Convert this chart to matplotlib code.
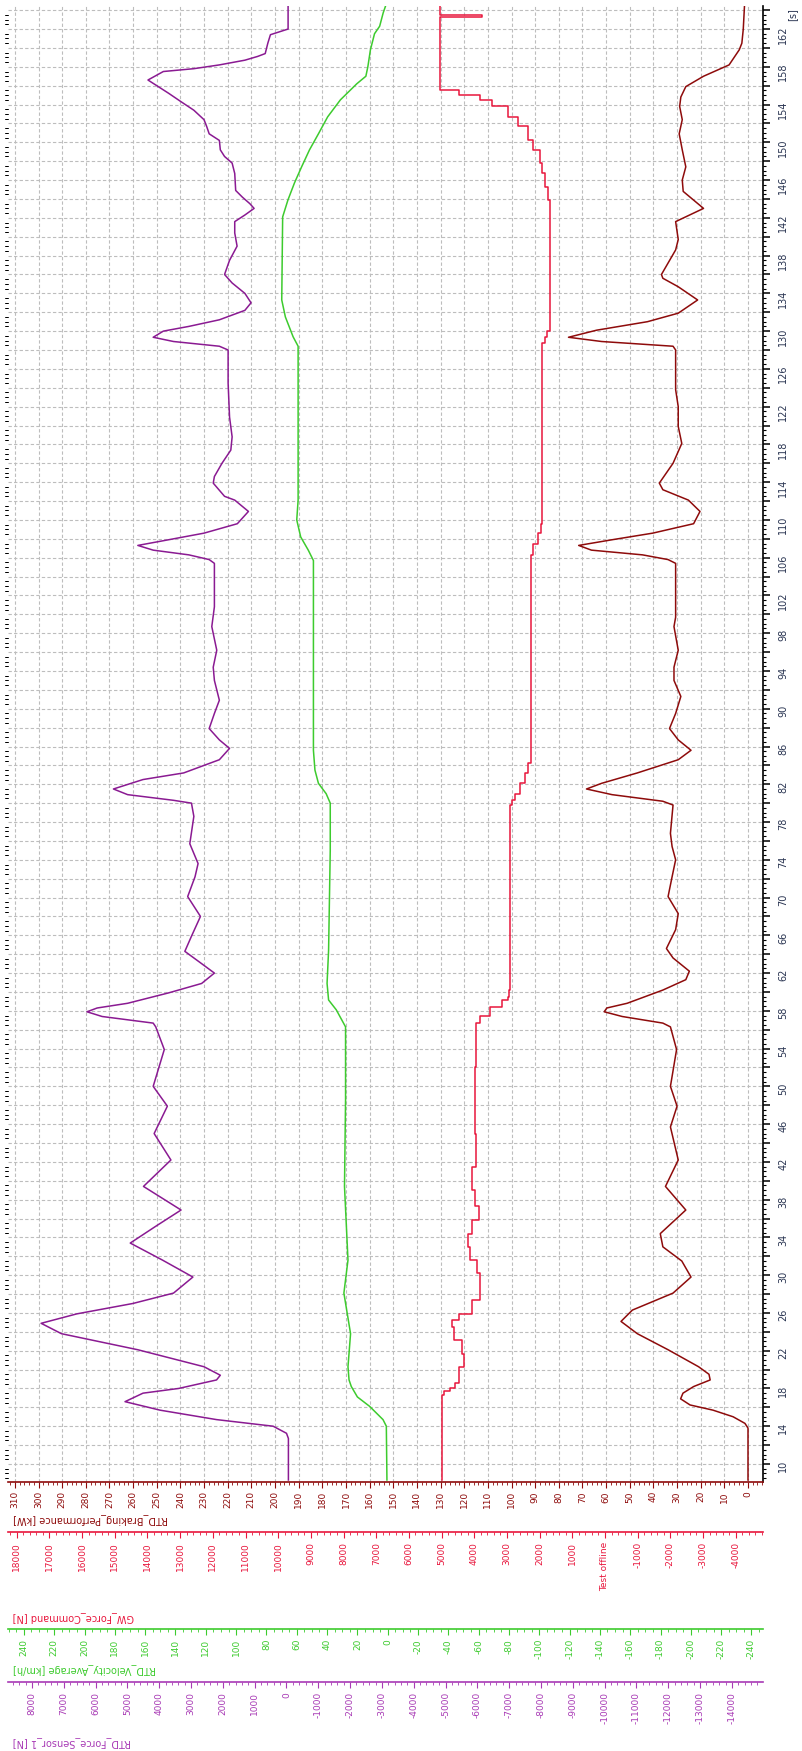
import matplotlib
matplotlib.use('Agg')
import matplotlib.pyplot as plt
from matplotlib.ticker import MultipleLocator, FuncFormatter

W, H = 802, 1751

# ---- data (time in s) ----
# RTD_Braking_Performance [kW]
kw_t = [8.3, 13.8, 14.3, 15.0, 15.7, 16.25, 16.9, 17.5, 18.2, 18.9, 19.5, 20.3, 22.1, 23.8,
        25.1, 26.3, 28.1, 29.8, 31.5, 33.0, 34.4, 36.9, 39.4, 42.2, 45.7, 47.9, 50.0, 53.9,
        56.3, 56.7, 57.4, 57.9, 58.3, 58.8, 60.2, 61.3, 62.2, 63.6, 64.6, 66.6, 68.3, 70.1,
        72.2, 74.0, 75.4, 76.8, 79.8, 80.2, 80.9, 81.5, 82.1, 83.2, 84.6, 85.6, 86.7, 87.9,
        89.5, 91.3, 93.0, 94.4, 96.2, 98.7, 99.7, 105.4, 105.8, 106.3, 106.8, 107.3, 107.9,
        108.6, 109.6, 110.9, 112.1, 113.2, 113.9, 116.0, 118.1, 119.9, 122.0, 123.8, 128.0,
        128.4, 128.9, 129.35, 130.1, 131.0, 131.9, 133.3, 134.7, 135.6, 136.0, 138.6, 139.7,
        141.6, 143.0, 144.8, 146.0, 147.4, 149.2, 150.9, 152.4, 153.8, 154.8, 155.9, 157.0,
        158.2, 159.8, 160.5, 162.0, 164.4]
kw_val = [0, 0, 1.3, 6.3, 14.8, 24.5, 28.5, 27.5, 23, 16, 16.5, 20.9, 33.8, 46.8,
          53.7, 48.9, 31.7, 24.1, 28, 36, 37.1, 26.3, 34.9, 29.5, 32.8, 30, 32.8, 30.2,
          32.8, 36, 53.2, 60.8, 59.7, 51.1, 36, 26.3, 24.8, 31.7, 34.5, 30.6, 29.5, 33.8,
          32.1, 30.6, 32.1, 32.8, 31.7, 36, 57.5, 68.3, 61.9, 46.8, 29.5, 24.1, 29.5, 33.2,
          30.6, 28.4, 31.3, 31.3, 29.5, 31.3, 30.6, 30.6, 33.8, 44.6, 66.2, 71.6, 57.5,
          40.3, 23, 20.3, 25.2, 36, 37.5, 31.7, 28, 29.5, 29.5, 30.6, 30.6,
          31.7, 61.9, 75.9, 64, 42.5, 29.5, 21.3, 29.5, 36, 36.6, 30.6, 29.5,
          30.6, 18.8, 27.4, 27.8, 26.3, 27.8, 29.1, 27.8, 28.9, 28.4, 26.3, 18.8,
          8, 3.7, 2.6, 2, 1.5]

# RTD_Force_Sensor_1 [N]
fs_t = [8.3, 12.7, 13.25, 14.0, 14.7, 15.7, 16.6, 17.5, 18.0, 18.9, 19.4, 20.3, 22.1, 23.8,
        24.9, 25.9, 27.0, 28.1, 29.8, 31.6, 33.4, 35.2, 36.9, 39.4, 42.2, 45.0, 47.9, 50.0,
        53.9, 56.3, 56.7, 57.4, 57.9, 58.3, 58.8, 59.9, 60.9, 62.0, 63.2, 64.3, 65.9, 68.0,
        70.1, 72.2, 73.6, 75.7, 78.6, 80.0, 80.3, 80.9, 81.5, 82.5, 83.2, 84.6, 85.8, 86.7,
        87.9, 89.5, 90.9, 93.0, 94.4, 96.2, 98.7, 100.8, 105.4, 105.8, 106.3, 106.8, 107.3,
        107.9, 108.6, 109.6, 110.9, 112.1, 112.5, 113.9, 114.6, 116.0, 117.4, 118.8, 120.9,
        124.5, 128.0, 128.4, 128.9, 129.35, 130.0, 130.5, 131.2, 132.2, 133.0, 134.0, 135.1,
        136.0, 137.5, 139.0, 140.4, 141.6, 142.3, 143.0, 143.5, 144.2, 144.9, 146.7, 147.8,
        148.5, 149.2, 150.2, 150.9, 151.7, 152.4, 153.4, 154.3, 155.2, 156.6, 157.5, 157.8,
        158.2, 158.7, 159.1, 159.4, 160.5, 161.4, 162.0, 164.4]
fs_val = [-60, -60, 0, 420, 2200, 3975, 5075, 4510, 3388, 2199, 2080, 2593, 4673, 7073,
          7712, 6590, 4829, 3551, 2942, 3900, 4911, 4100, 3314, 4495, 3633, 4160, 3744, 4190,
          3841, 4109, 4190, 5795, 6271, 5951, 4993, 3707, 2667, 2266, 2749, 3195, 2987, 2704,
          3106, 2875, 2779, 3039, 2912, 2987, 3551, 4993, 5439, 4510, 3232, 2110, 1790, 2110,
          2430, 2266, 2110, 2266, 2303, 2192, 2348, 2266, 2266, 2430, 3069, 4190, 4673,
          3707, 2593, 1545, 1196, 1627, 1947, 2303, 2266, 2028, 1750, 1709, 1790,
          1835, 1835, 2110, 3551, 4190, 3871, 3069, 2110, 1308, 1114, 1308, 1709,
          1947, 1790, 1553, 1627, 1627, 1308, 1018, 1152, 1389, 1597, 1627, 1709,
          1947, 2080, 2110, 2430, 2511, 2593, 2912, 3314, 3707, 4354, 3871, 2912,
          2110, 1308, 906, 669, 587, 505, -50, -50]

# RTD_Velocity_Average [km/h]
v_t = [8.3, 14.0, 14.7, 16.1, 17.1, 18.2, 18.9, 20.3, 23.8, 28.1, 31.6, 39.4, 48.6, 56.3,
       58.1, 59.15, 60.9, 64.4, 75.0, 80.0, 81.0, 82.1, 83.5, 85.6, 98.0, 105.7, 106.8,
       108.2, 110.0, 112.1, 120.9, 128.4, 129.4, 131.5, 133.3, 142.1, 143.9, 145.7, 147.4,
       149.2, 150.9, 152.7, 154.5, 156.2, 157.0, 158.0, 159.8, 161.5, 162.3, 163.7, 164.4]
v_val = [0.5, 0.9, 3.1, 11.9, 20, 24, 25.5, 26.2, 24.5, 28.9, 26.2, 28.5, 27.8, 27.8,
         33.9, 39, 40, 39, 37.9, 37.9, 40.6, 45.7, 48, 49, 49, 49, 52.4,
         57.4, 60, 59.1, 59.1, 59.1, 62.4, 67.5, 69.9, 69.3, 65.8, 61.5, 56.8,
         51.6, 45.7, 39.6, 31.2, 20.4, 14.4, 13.1, 11.4, 8.7, 5.3, 3, 1.5]

# GW_Force_Command [N]
fc_t = [8.3, 17.1, 17.3, 17.7, 18.0, 18.6, 20.3, 21.7, 23.1, 24.5, 25.3, 25.9, 27.4, 29.1,
        30.2, 31.6, 33.0, 34.4, 35.8, 37.3, 39.0, 41.5, 45.0, 52.1, 56.3, 56.7, 57.4, 58.4,
        59.15, 59.5, 60.2, 79.8, 80.3, 81.0, 82.1, 83.2, 84.2, 105.7, 106.3, 107.5, 108.6,
        109.6, 128.7, 129.4, 130.0, 143.5, 143.9, 145.3, 146.7, 147.8, 149.2, 150.2, 151.7,
        152.7, 153.8, 154.5, 155.0, 155.5, 163.2, 163.25, 163.45, 163.5, 164.4]
fc_val = [5000, 5000, 4940, 4735, 4584, 4461, 4302, 4381, 4620, 4692, 4461, 4070, 3839, 3839,
          3918, 4121, 4179, 4070, 3868, 3991, 4070, 3948, 3991, 3948, 3948, 3839, 3528, 3138,
          2979, 2950, 2899, 2856, 2747, 2588, 2436, 2357, 2277, 2277, 2198, 2046, 1967,
          1923, 1844, 1779, 1685, 1685, 1735, 1844, 1938, 1996, 2198, 2357, 2668,
          2979, 3449, 3839, 4461, 5050, 5050, 3760, 3760, 5050, 5050]

# ---- colours ----
DARKRED = '#8E0B0B'
RED = '#E8163C'
GREEN = '#3DCB2E'
PURPLE = '#8A1A92'
PURPLE_AX = '#A83AB5'
TIMECOL = '#2A3552'


def rect(x0, y0, x1, y1):
    return [x0 / W, 1 - y1 / H, (x1 - x0) / W, (y1 - y0) / H]


fig = plt.figure(figsize=(W / 100, H / 100), dpi=100)
plt.rcParams['font.family'] = ['DejaVu Sans']

L, R, T, B = 8, 763, 6, 1482
ax = fig.add_axes(rect(L, T, R, B))

# main axes: kW horizontally (inverted), time vertically
ax.set_xlim(312.9, -6.34)
ax.set_ylim(8.09, 164.44)
ax.plot(kw_val, kw_t, color=DARKRED, lw=1.1, zorder=5)

for s in ['top', 'left']:
    ax.spines[s].set_visible(False)
ax.spines['bottom'].set_color(DARKRED)
ax.spines['bottom'].set_linewidth(1.2)
ax.spines['right'].set_color('black')
ax.spines['right'].set_linewidth(1.2)

ax.xaxis.set_major_locator(MultipleLocator(10))
ax.xaxis.set_minor_locator(MultipleLocator(2))
ax.xaxis.set_major_formatter(FuncFormatter(lambda v, p: '%d' % round(v)))
ax.tick_params(axis='x', which='both', direction='out', colors=DARKRED,
               labelrotation=90, labelsize=6.5, pad=2.5)
ax.tick_params(axis='x', which='major', length=4)
ax.tick_params(axis='x', which='minor', length=2)

ax.yaxis.tick_right()
ax.yaxis.set_major_locator(MultipleLocator(2))
ax.yaxis.set_minor_locator(MultipleLocator(0.5))
ax.yaxis.set_major_formatter(
    FuncFormatter(lambda v, p: '%d' % round(v) if round(v) % 4 == 2 else ''))
ax.tick_params(axis='y', which='both', direction='out', color='black',
               labelcolor=TIMECOL, labelrotation=90, labelsize=7, pad=6)
ax.tick_params(axis='y', which='major', length=5, width=1.1)
ax.tick_params(axis='y', which='minor', length=2.5, width=0.8)

ax.grid(True, which='major', color='#BDBDBD', linestyle=(0, (3, 2)), linewidth=0.8)
ax.set_axisbelow(True)


def overlay(xlim):
    a = fig.add_axes(rect(L, T, R, B), sharey=ax)
    a.set_xlim(*xlim)
    a.patch.set_visible(False)
    for s in a.spines.values():
        s.set_visible(False)
    a.tick_params(left=False, right=False, bottom=False, top=False,
                  labelleft=False, labelright=False, labelbottom=False, labeltop=False)
    a.grid(False)
    return a


ax_fs = overlay((8753, -14976))
ax_fs.plot(fs_val, fs_t, color=PURPLE, lw=1.1, zorder=5)

ax_v = overlay((250.5, -247.6))
ax_v.plot(v_val, v_t, color=GREEN, lw=1.1, zorder=5)

ax_fc = overlay((18268, -4835))
ax_fc.plot(fc_val, fc_t, color=RED, lw=1.1, drawstyle='steps-pre', zorder=5)


def scale_axis(ypix, xlim, color, major, minor, fmt):
    a = fig.add_axes(rect(L, ypix - 0.5, R, ypix + 0.5))
    a.set_xlim(*xlim)
    a.patch.set_visible(False)
    for s in ['top', 'left', 'right']:
        a.spines[s].set_visible(False)
    a.spines['bottom'].set_color(color)
    a.spines['bottom'].set_linewidth(1.2)
    a.set_yticks([])
    a.xaxis.set_major_locator(MultipleLocator(major))
    a.xaxis.set_minor_locator(MultipleLocator(minor))
    a.xaxis.set_major_formatter(FuncFormatter(fmt))
    a.tick_params(axis='x', which='both', direction='out', colors=color,
                  labelrotation=90, labelsize=6.5, pad=3.5)
    a.tick_params(axis='x', which='major', length=4)
    a.tick_params(axis='x', which='minor', length=2)
    return a


scale_axis(1531, (18268, -4835), RED, 1000, 200,
           lambda v, p: 'Test offline' if round(v) == 0 else '%d' % round(v))
scale_axis(1628, (250.5, -247.6), GREEN, 20, 5, lambda v, p: '%d' % round(v))
scale_axis(1681, (8753, -14976), PURPLE_AX, 1000, 200, lambda v, p: '%d' % round(v))

# axis titles (upside down, as on the rotated screen capture)
titles = [('RTD_Braking_Performance [kW]', 1519, DARKRED),
          ('GW_Force_Command [N]', 1617, RED),
          ('RTD_Velocity_Average [km/h]', 1669, GREEN),
          ('RTD_Force_Sensor_1 [N]', 1742, PURPLE_AX)]
for txt, ypix, col in titles:
    fig.text(13 / W, 1 - ypix / H, txt, rotation=180, ha='left', va='center',
             color=col, fontsize=7)

fig.text(792 / W, 1 - 15 / H, '[s]', rotation=90, ha='center', va='center',
         color=TIMECOL, fontsize=7)

fig.savefig('out.png', dpi=100)
